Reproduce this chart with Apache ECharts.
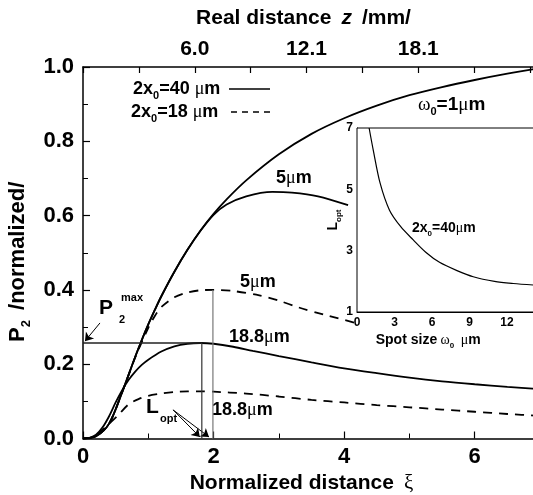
<!DOCTYPE html>
<html>
<head>
<meta charset="utf-8">
<script src="https://cdn.jsdelivr.net/npm/echarts@6/dist/echarts.min.js"></script>
<style>
html, body { margin: 0; padding: 0; background: #fff; overflow: hidden; }
#chart { width: 545px; height: 495px; }
</style>
</head>
<body>
<div id="chart"></div>
<script>
// main plot: P2 vs normalized distance xi
const xiW1 = [0, 0.2, 0.4, 0.6, 0.8, 0.9, 1.0, 1.1, 1.2, 1.4, 1.6, 1.8, 2.0, 2.2, 2.5, 3.0, 3.5, 4.0, 4.5, 5.0, 5.5, 6.0, 6.5, 7.0]
const pW1 = [0, 0.006, 0.04, 0.125, 0.22, 0.265, 0.307, 0.346, 0.383, 0.449, 0.508, 0.56, 0.605, 0.644, 0.695, 0.765, 0.82, 0.862, 0.896, 0.924, 0.946, 0.965, 0.982, 0.997]

const xiW5 = [0, 0.2, 0.4, 0.6, 0.8, 0.9, 1.0, 1.1, 1.2, 1.4, 1.6, 1.8, 2.0, 2.2, 2.5, 2.9, 3.2, 3.6, 4.06]
const pW5 = [0, 0.006, 0.04, 0.125, 0.22, 0.265, 0.307, 0.346, 0.383, 0.449, 0.508, 0.559, 0.602, 0.63, 0.652, 0.664, 0.662, 0.652, 0.628]

const xiD5 = [0, 0.2, 0.4, 0.6, 0.8, 1.0, 1.1, 1.2, 1.4, 1.6, 1.8, 2.0, 2.3, 2.7, 3.0, 3.3, 3.7, 4.2]
const pD5 = [0, 0.006, 0.04, 0.125, 0.218, 0.298, 0.33, 0.354, 0.38, 0.393, 0.399, 0.4, 0.397, 0.385, 0.371, 0.353, 0.333, 0.31]

const xiS18 = [0, 0.1, 0.2, 0.3, 0.4, 0.5, 0.6, 0.7, 0.8, 0.9, 1.0, 1.2, 1.4, 1.6, 1.8, 2.0, 2.3, 2.6, 3.0, 3.5, 4.0, 4.5, 5.0, 5.5, 6.0, 6.5, 7.0]
const pS18 = [0, 0.002, 0.01, 0.03, 0.06, 0.097, 0.13, 0.158, 0.18, 0.198, 0.212, 0.234, 0.248, 0.255, 0.257, 0.255, 0.247, 0.236, 0.222, 0.205, 0.189, 0.176, 0.164, 0.154, 0.146, 0.139, 0.133]

const xiD18 = [0, 0.15, 0.26, 0.4, 0.55, 0.7, 0.85, 1.0, 1.2, 1.4, 1.6, 1.8, 2.0, 2.5, 3.0, 3.5, 4.0, 4.5, 5.0, 5.5, 6.0, 6.5, 7.0]
const pD18 = [0, 0.004, 0.017, 0.04, 0.065, 0.092, 0.106, 0.115, 0.121, 0.125, 0.127, 0.127, 0.126, 0.121, 0.113, 0.104, 0.097, 0.09, 0.084, 0.078, 0.072, 0.066, 0.061]

// P2max level and L_opt positions
const pMax = 0.257
const lOpt40 = 1.82
const lOpt18 = 1.99
const peak18 = 0.40

// annotation arrows [from, to]
const arrowP2 = [[0.26, 0.311], [0.03, 0.262]]
const arrowL1 = [[1.38, 0.077], [1.79, 0.004]]
const arrowL2 = [[1.38, 0.077], [1.93, 0.004]]

// top axis: real distance z (mm)
const zStep = 3.02
const zMax = 24.7
const zLabels = ['6.0', '12.1', '18.1']

// inset: L_opt vs spot size
const omega = [0.97, 1.3, 1.85, 2.6, 3.5, 4.5, 5.5, 6.6, 8, 9.3, 11, 12.5, 14.1, 15]
const lOpt = [7, 6.28, 5.2, 4.32, 3.78, 3.35, 2.95, 2.62, 2.35, 2.15, 2.0, 1.93, 1.88, 1.86]

const pairs = (xs, ys) => xs.map((x, i) => [x, ys[i]])

const FONT = 'Liberation Sans, Arial, sans-serif'
const SERIF = 'Liberation Serif, DejaVu Serif, serif'

const bold = (size) => ({ fontFamily: FONT, fontWeight: 'bold', fontSize: size, color: '#000' })
const richSet = (size) => ({
  b: bold(size),
  s: { fontFamily: FONT, fontWeight: 'bold', fontSize: Math.round(size * 0.6), color: '#000', verticalAlign: 'top', padding: [Math.round(size * 0.75), 0, 0, 0] },
  g: { fontFamily: SERIF, fontSize: size, color: '#000' },
  i: { fontFamily: FONT, fontWeight: 'bold', fontStyle: 'italic', fontSize: size, color: '#000' }
})

const curve = (name, xs, ys, dashed) => ({
  name: name,
  type: 'line',
  xAxisIndex: 0,
  yAxisIndex: 0,
  data: pairs(xs, ys),
  smooth: 0.3,
  showSymbol: false,
  silent: true,
  lineStyle: { color: '#000', width: 1.8, type: dashed ? [9, 7] : 'solid' }
})

const segment = (name, pts, color, width) => ({
  name: name,
  type: 'line',
  xAxisIndex: 0,
  yAxisIndex: 0,
  data: pts,
  showSymbol: false,
  silent: true,
  lineStyle: { color: color, width: width }
})

const arrows = {
  type: 'lines',
  coordinateSystem: 'cartesian2d',
  xAxisIndex: 0,
  yAxisIndex: 0,
  symbol: ['none', 'arrow'],
  symbolSize: 8,
  silent: true,
  lineStyle: { color: '#000', width: 1, opacity: 1 },
  data: [{ coords: arrowP2 }, { coords: arrowL1 }, { coords: arrowL2 }]
}

let chart = echarts.init(document.getElementById('chart'))

let option = {
  animation: false,
  backgroundColor: '#fff',
  grid: [
    { left: 83, top: 67, width: 457, height: 371.5, outerBoundsMode: 'none', containLabel: false },
    { left: 357, top: 128, width: 187.5, height: 184, show: true, backgroundColor: '#fff', borderColor: '#000', borderWidth: 1, outerBoundsMode: 'none', containLabel: false, z: 5 }
  ],
  xAxis: [
    {
      type: 'value', gridIndex: 0, position: 'bottom', min: 0, max: 7, interval: 2,
      axisLine: { onZero: false, lineStyle: { color: '#000', width: 1.5 } },
      axisTick: { inside: true, length: 7, lineStyle: { color: '#000', width: 1.2 } },
      minorTick: { show: true, splitNumber: 2, length: 5, lineStyle: { color: '#000', width: 1 } },
      splitLine: { show: false },
      axisLabel: { margin: 7, ...bold(22) },
      name: '{b|Normalized distance}   {g|ξ}',
      nameLocation: 'middle', nameGap: 34,
      nameTextStyle: { padding: [0, 20, 0, 0], rich: richSet(21) }
    },
    {
      type: 'value', gridIndex: 0, position: 'top', min: 0, max: zMax, interval: zStep,
      axisLine: { onZero: false, lineStyle: { color: '#000', width: 1.5 } },
      axisTick: { inside: true, length: 6, lineStyle: { color: '#000', width: 1.2 } },
      splitLine: { show: false },
      axisLabel: {
        margin: 7, ...bold(21),
        formatter: (v) => {
          let k = Math.round(v / zStep)
          return (k === 2 || k === 4 || k === 6) ? zLabels[k / 2 - 1] : ''
        }
      },
      name: '{b|Real distance}   {i|z}   {b|/mm/}',
      nameLocation: 'middle', nameGap: 38,
      nameTextStyle: { padding: [0, 16, 0, 0], rich: richSet(21) }
    },
    {
      type: 'value', gridIndex: 1, position: 'bottom', min: 0, max: 15, interval: 3,
      axisLine: { onZero: false, lineStyle: { color: '#000', width: 1 } },
      axisTick: { inside: true, length: 4, lineStyle: { color: '#000' } },
      minorTick: { show: true, splitNumber: 2, length: 3, lineStyle: { color: '#000' } },
      splitLine: { show: false },
      axisLabel: { margin: 5, ...bold(12), formatter: (v) => v >= 15 ? '' : String(v) },
      name: '{b|Spot size} {g|ω}{s|0}  {g|μ}{b|m}',
      nameLocation: 'middle', nameGap: 19,
      nameTextStyle: { padding: [0, 45, 0, 0], rich: richSet(14) }
    }
  ],
  yAxis: [
    {
      type: 'value', gridIndex: 0, min: 0, max: 1, interval: 0.2,
      axisLine: { onZero: false, lineStyle: { color: '#000', width: 1.5 } },
      axisTick: { inside: true, length: 7, lineStyle: { color: '#000', width: 1.2 } },
      minorTick: { show: true, splitNumber: 2, length: 5, lineStyle: { color: '#000', width: 1 } },
      splitLine: { show: false },
      axisLabel: { margin: 9, ...bold(22), formatter: (v) => v.toFixed(1) },
      name: '{b|P}{s|2}   {b|/normalized/}',
      nameLocation: 'middle', nameGap: 50, nameRotate: 90,
      nameTextStyle: { padding: [0, 0, 0, -18], rich: richSet(22) }
    },
    {
      type: 'value', gridIndex: 1, min: 1, max: 7, interval: 2,
      axisLine: { onZero: false, lineStyle: { color: '#000', width: 1 } },
      axisTick: { inside: true, length: 4, lineStyle: { color: '#000' } },
      minorTick: { show: true, splitNumber: 2, length: 3, lineStyle: { color: '#000' } },
      splitLine: { show: false },
      axisLabel: { margin: 4, ...bold(12) },
      name: '{b|L}{s|opt}',
      nameLocation: 'middle', nameGap: 11, nameRotate: 90,
      nameTextStyle: { rich: richSet(14) }
    }
  ],
  series: [
    curve('ω0=1μm, 2x0=40μm', xiW1, pW1, false),
    curve('5μm, 2x0=40μm', xiW5, pW5, false),
    curve('5μm, 2x0=18μm', xiD5, pD5, true),
    curve('18.8μm, 2x0=40μm', xiS18, pS18, false),
    curve('18.8μm, 2x0=18μm', xiD18, pD18, true),
    segment('P2max', [[0, pMax], [lOpt40, pMax]], '#222', 1.3),
    segment('Lopt 40', [[lOpt40, 0], [lOpt40, pMax]], '#333', 1.2),
    segment('Lopt 18', [[lOpt18, 0], [lOpt18, peak18]], '#777', 1.2),
    arrows,
    {
      name: 'Lopt vs spot size',
      type: 'line',
      xAxisIndex: 2,
      yAxisIndex: 1,
      data: pairs(omega, lOpt),
      smooth: 0.3,
      showSymbol: false,
      silent: true,
      z: 6,
      lineStyle: { color: '#000', width: 1.2 }
    }
  ],
  graphic: [
    { type: 'text', x: 133, y: 89, style: { text: '{b|2x}{s|0}{b|=40 }{g|μ}{b|m}', rich: richSet(18), verticalAlign: 'middle' } },
    { type: 'line', shape: { x1: 229, y1: 89, x2: 270, y2: 89 }, style: { stroke: '#000', lineWidth: 1.5 } },
    { type: 'text', x: 131, y: 112, style: { text: '{b|2x}{s|0}{b|=18 }{g|μ}{b|m}', rich: richSet(18), verticalAlign: 'middle' } },
    { type: 'line', shape: { x1: 231, y1: 112, x2: 270, y2: 112 }, style: { stroke: '#000', lineWidth: 1.5, lineDash: [6, 5] } },
    { type: 'text', x: 418, y: 105, style: { text: '{g|ω}{s|0}{b|=1}{g|μ}{b|m}', rich: richSet(19), verticalAlign: 'middle' } },
    { type: 'text', x: 276, y: 178, style: { text: '{b|5}{g|μ}{b|m}', rich: richSet(18), verticalAlign: 'middle' } },
    { type: 'text', x: 240, y: 282, style: { text: '{b|5}{g|μ}{b|m}', rich: richSet(18), verticalAlign: 'middle' } },
    { type: 'text', x: 229, y: 337, style: { text: '{b|18.8}{g|μ}{b|m}', rich: richSet(18), verticalAlign: 'middle' } },
    { type: 'text', x: 212, y: 410, style: { text: '{b|18.8}{g|μ}{b|m}', rich: richSet(18), verticalAlign: 'middle' } },
    { type: 'text', x: 99, y: 308, style: { text: 'P', ...bold(21), verticalAlign: 'middle' } },
    { type: 'text', x: 119, y: 320, style: { text: '2', ...bold(11), verticalAlign: 'middle' } },
    { type: 'text', x: 121, y: 298, style: { text: 'max', ...bold(11), verticalAlign: 'middle' } },
    { type: 'text', x: 146, y: 407, style: { text: 'L', ...bold(21), verticalAlign: 'middle' } },
    { type: 'text', x: 160, y: 419, style: { text: 'opt', ...bold(11), verticalAlign: 'middle' } },
    { type: 'text', x: 412, y: 228, z: 10, style: { text: '{b|2x}{s|0}{b|=40}{g|μ}{b|m}', rich: richSet(14), verticalAlign: 'middle' } }
  ]
}

chart.setOption(option)
</script>
</body>
</html>
